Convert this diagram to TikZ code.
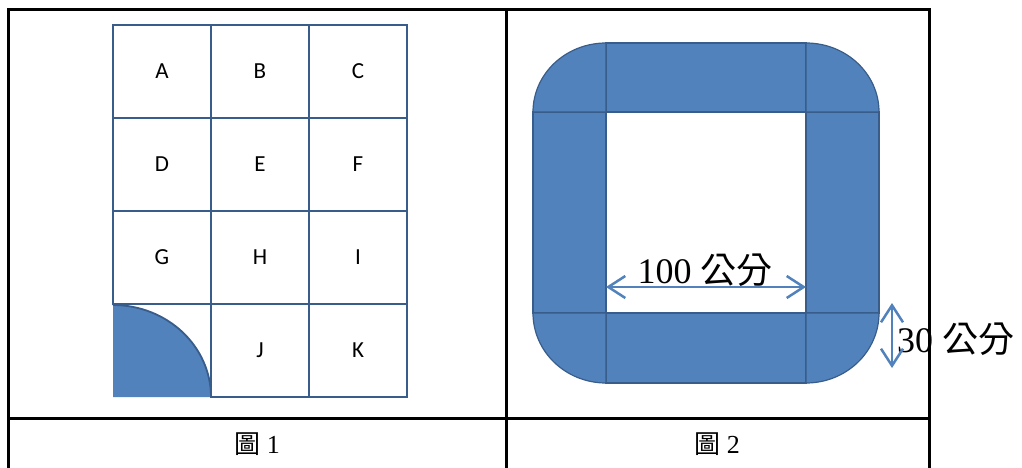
\documentclass[tikz,border=0pt]{standalone}
\usepackage{fontspec}
\setmainfont{Liberation Serif}
\newfontfamily\cjk{Noto Sans CJK TC}
\newfontfamily\carlito{Carlito}
\usepackage{tikz}
\usetikzlibrary{arrows.meta,positioning}
\definecolor{shapeblue}{HTML}{5182BC}
\definecolor{edgeblue}{HTML}{385D8A}

\begin{document}
\begin{tikzpicture}[x=1pt,y=-1pt,on grid,node distance=93pt and 98pt,
		cell/.style={draw=edgeblue,line width=2.8pt,minimum width=98pt,minimum height=93pt,inner sep=0pt,font=\carlito\fontsize{23}{23}\selectfont},
		piece/.style={fill=shapeblue,draw=edgeblue,line width=1.2pt},
		dim/.style={{Straight Barb[length=17pt,width=22pt]}-{Straight Barb[length=17pt,width=22pt]},draw=shapeblue,line width=2.5pt},
		dimtext/.style={font=\fontsize{36}{36}\selectfont,inner sep=0pt},
		captext/.style={font=\fontsize{26}{26}\selectfont}]
		\useasboundingbox (0,0) rectangle (1022,468);
		% table
		\draw[line width=3pt] (8.5,472) -- (8.5,10) -- (929,10) -- (929,472);
		\draw[line width=3pt] (506,10) -- (506,472);
		\draw[line width=3pt] (8.5,418) -- (929,418);
		\node[captext] (cap1) at (257,444) {{\cjk 圖} 1};
		\node[captext] (cap2) at (717,444) {{\cjk 圖} 2};
		% figure 1
		\node[cell] (a) at (162,71.5) {A};
		\node[cell] (b) [right=of a] {B};
		\node[cell] (c) [right=of b] {C};
		\node[cell] (d) [below=of a] {D};
		\node[cell] (e) [right=of d] {E};
		\node[cell] (f) [right=of e] {F};
		\node[cell] (g) [below=of d] {G};
		\node[cell] (h) [right=of g] {H};
		\node[cell] (i) [right=of h] {I};
		\node[cell] (j) [below=of h] {J};
		\node[cell] (k) [right=of j] {K};
		\fill[shapeblue] (113,397) -- (113,305) arc[start angle=90,end angle=0,x radius=98pt,y radius=92pt] -- cycle;
		\draw[edgeblue,line width=1.8pt] (113,305) arc[start angle=90,end angle=0,x radius=98pt,y radius=92pt];
		% figure 2
		\path[piece] (606,43) rectangle (806,112);
		\path[piece] (606,313) rectangle (806,383);
		\path[piece] (533,112) rectangle (606,313);
		\path[piece] (806,112) rectangle (879,313);
		\path[piece] (606,112) -- (533,112) arc[start angle=180,end angle=90,x radius=73pt,y radius=69pt] -- cycle;
		\path[piece] (806,112) -- (806,43) arc[start angle=90,end angle=0,x radius=73pt,y radius=69pt] -- cycle;
		\path[piece] (606,313) -- (533,313) arc[start angle=180,end angle=270,x radius=73pt,y radius=70pt] -- cycle;
		\path[piece] (806,313) -- (879,313) arc[start angle=0,end angle=-90,x radius=73pt,y radius=70pt] -- cycle;
		\node[dimtext,anchor=base] (w) at (705,283) {100 {\cjk 公分}};
		\node[dimtext,anchor=base west] (t) at (897,352) {30 {\cjk 公分}};
		\coordinate (w1) at (606,287);
		\coordinate (w2) at (806,287);
		\coordinate (t1) at (892,303);
		\coordinate (t2) at (892,368);
		\draw[dim] (w1) -- (w2);
		\draw[dim] (t1) -- (t2);
	\end{tikzpicture}
\end{document}
